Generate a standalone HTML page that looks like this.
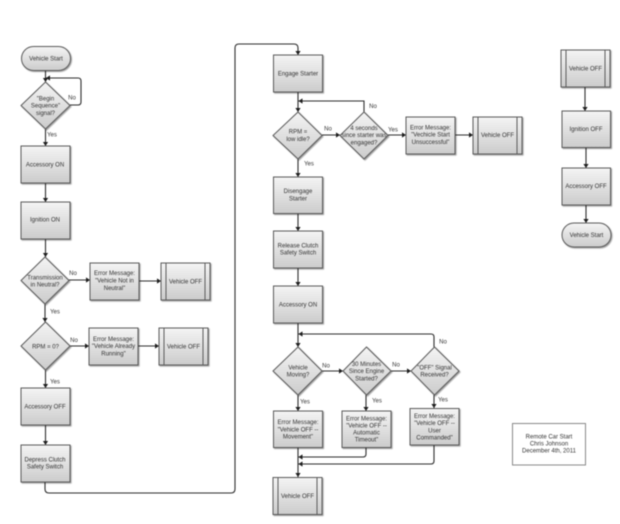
<!DOCTYPE html>
<html><head><meta charset="utf-8"><style>
html,body{margin:0;padding:0;background:#fff;width:620px;height:524px;overflow:hidden}
svg{display:block;filter:blur(.4px)}
.n rect,.n polygon{fill:url(#g);stroke:#5a5a5a;stroke-width:1;filter:url(#s)}
.n line{stroke:#5a5a5a;stroke-width:1}
.c{fill:none;stroke:#2e2e2e;stroke-width:1.1;marker-end:url(#a)}
text{font-family:"Liberation Sans",sans-serif;font-size:6px;fill:#333;text-anchor:middle}
</style></head><body>
<svg width="620" height="524" viewBox="0 0 620 524" xmlns="http://www.w3.org/2000/svg">
<defs>
<linearGradient id="g" x1="0" y1="0" x2="0" y2="1"><stop offset="0" stop-color="#f4f4f4"/><stop offset="1" stop-color="#cccccc"/></linearGradient>
<filter id="s" x="-10%" y="-10%" width="125%" height="125%"><feDropShadow dx="1" dy="1" stdDeviation=".6" flood-color="#000" flood-opacity=".4"/></filter>
<marker id="a" markerUnits="userSpaceOnUse" markerWidth="6" markerHeight="6" refX="4" refY="3" orient="auto"><path d="M0 .4L4 3L0 5.6Z" fill="#1e1e1e"/></marker>
</defs>

<!-- connectors -->
<path class="c" d="M45.5 71V82"/>
<path class="c" d="M70 105H78Q81 105 81 102V81Q81 78 78 78H46"/>
<path class="c" d="M45.5 129V146"/>
<path class="c" d="M45.5 183V202"/>
<path class="c" d="M45.5 239V257"/>
<path class="c" d="M69 280H90"/>
<path class="c" d="M139 281H161"/>
<path class="c" d="M45 304V322"/>
<path class="c" d="M70 346H89"/>
<path class="c" d="M138 346H159"/>
<path class="c" d="M45.5 370V388"/>
<path class="c" d="M45.5 425V445"/>
<path class="c" d="M45 482V489Q45 493 49 493H231Q235 493 235 489V48Q235 44 239 44H294Q298 44 298 48V55"/>
<path class="c" d="M298 92V112"/>
<path class="c" d="M364 112V101H298.5"/>
<path class="c" d="M322 135H340"/>
<path class="c" d="M388 135H406"/>
<path class="c" d="M455 135H473"/>
<path class="c" d="M298 159V177"/>
<path class="c" d="M298 213V231"/>
<path class="c" d="M298 268V286"/>
<path class="c" d="M298 323V347"/>
<path class="c" d="M434 347V337Q434 334 431 334H298.5"/>
<path class="c" d="M322 371H343"/>
<path class="c" d="M391 371H411"/>
<path class="c" d="M298 395V411"/>
<path class="c" d="M366 395V411"/>
<path class="c" d="M434 395V408"/>
<path class="c" d="M298 447V477"/>
<path class="c" d="M366 447V454Q366 457 363 457H298.5"/>
<path class="c" d="M434 445V461Q434 464 431 464H298.5"/>
<path class="c" d="M585 87V111"/>
<path class="c" d="M586 147V168"/>
<path class="c" d="M586 205V223"/>

<!-- left column -->
<g class="n">
<rect x="21.5" y="46.5" width="49" height="24" rx="12"/>
<polygon points="45.5,82 70,105.5 45.5,129 21,105.5"/>
<rect x="21" y="146" width="49" height="37"/>
<rect x="21" y="202" width="49" height="37"/>
<polygon points="45,257 69,280.5 45,304 21,280.5"/>
<rect x="90" y="263" width="49" height="37"/>
<rect x="161" y="263" width="49" height="37"/><line x1="166" y1="263" x2="166" y2="300"/><line x1="205" y1="263" x2="205" y2="300"/>
<polygon points="45.5,322 70,346 45.5,370 21,346"/>
<rect x="89" y="328" width="49" height="37"/>
<rect x="159" y="328" width="49" height="37"/><line x1="164" y1="328" x2="164" y2="365"/><line x1="203" y1="328" x2="203" y2="365"/>
<rect x="21" y="388" width="49" height="37"/>
<rect x="21" y="445" width="49" height="37"/>
</g>

<!-- middle column -->
<g class="n">
<rect x="273.5" y="55" width="49" height="37"/>
<polygon points="298,112 322,135.5 298,159 273,135.5"/>
<polygon points="364,112 388,135.5 364,159 340,135.5"/>
<rect x="406" y="117" width="49" height="37"/>
<rect x="473" y="117" width="49" height="37"/><line x1="478" y1="117" x2="478" y2="154"/><line x1="517" y1="117" x2="517" y2="154"/>
<rect x="273.5" y="177" width="49" height="36.5"/>
<rect x="273.5" y="231" width="49" height="37"/>
<rect x="273.5" y="286" width="49" height="37"/>
<polygon points="298,347 322,371 298,395 273,371"/>
<polygon points="366.5,347 391,371 366.5,395 343,371"/>
<polygon points="434.5,347 459,371 434.5,395 411,371"/>
<rect x="273.5" y="411" width="49" height="36.5"/>
<rect x="342" y="411" width="49" height="36.5"/>
<rect x="410" y="408.5" width="49" height="36.5"/>
<rect x="273" y="477.5" width="49" height="37"/><line x1="278" y1="477.5" x2="278" y2="514.5"/><line x1="317" y1="477.5" x2="317" y2="514.5"/>
</g>

<!-- right column -->
<g class="n">
<rect x="561" y="50" width="49" height="37"/><line x1="566" y1="50" x2="566" y2="87"/><line x1="605" y1="50" x2="605" y2="87"/>
<rect x="562" y="111" width="48.5" height="36.5"/>
<rect x="562" y="168" width="48.5" height="37"/>
<rect x="562" y="223" width="49" height="24" rx="12"/>
</g>
<rect x="512.5" y="423.5" width="73" height="41.5" fill="#fff" stroke="#8a8a8a" stroke-width="1"/>

<!-- node labels -->
<text x="46" y="60.5">Vehicle Start</text>
<text x="45.5" y="100.5">"Begin</text><text x="45.5" y="107.5">Sequence"</text><text x="45.5" y="115">signal?</text>
<text x="45" y="166.5">Accessory ON</text>
<text x="45" y="221.5">Ignition ON</text>
<text x="45" y="279.5">Transmission</text><text x="45" y="286.5">in Neutral?</text>
<text x="114.5" y="275">Error Message:</text><text x="114.5" y="282.5">"Vehicle Not in</text><text x="114.5" y="290">Neutral"</text>
<text x="185.5" y="283.5">Vehicle OFF</text>
<text x="45.5" y="348.5">RPM = 0?</text>
<text x="113.5" y="341">Error Message:</text><text x="113.5" y="348">"Vehicle Already</text><text x="113.5" y="355.5">Running"</text>
<text x="183.5" y="348.5">Vehicle OFF</text>
<text x="45" y="408.5">Accessory OFF</text>
<text x="45" y="461.5">Depress Clutch</text><text x="45" y="468.5">Safety Switch</text>

<text x="298" y="75.5">Engage Starter</text>
<text x="298" y="133.5">RPM =</text><text x="298" y="141">low idle?</text>
<text x="364" y="130">4 seconds</text><text x="364" y="137">since starter was</text><text x="364" y="144.5">engaged?</text>
<text x="430.5" y="129.5">Error Message:</text><text x="430.5" y="136.5">"Vechicle Start</text><text x="430.5" y="144">Unsuccessful"</text>
<text x="497.5" y="137">Vehicle OFF</text>
<text x="298" y="193">Disengage</text><text x="298" y="200.5">Starter</text>
<text x="298" y="247.5">Release Clutch</text><text x="298" y="254.5">Safety Switch</text>
<text x="298" y="306.5">Accessory ON</text>
<text x="298" y="369.5">Vehicle</text><text x="298" y="376.5">Moving?</text>
<text x="366.5" y="366">30 Minutes</text><text x="366.5" y="373">Since Engine</text><text x="366.5" y="380.5">Started?</text>
<text x="434.5" y="369.5">"OFF" Signal</text><text x="434.5" y="376.5">Received?</text>
<text x="298" y="424">Error Message:</text><text x="298" y="431.5">"Vehicle OFF --</text><text x="298" y="438.5">Movement"</text>
<text x="366.5" y="420.5">Error Message:</text><text x="366.5" y="427.5">"Vehicle OFF --</text><text x="366.5" y="434.5">Automatic</text><text x="366.5" y="441.5">Timeout"</text>
<text x="434.5" y="418">Error Message:</text><text x="434.5" y="425">"Vehicle OFF --</text><text x="434.5" y="432.5">User</text><text x="434.5" y="439.5">Commanded"</text>
<text x="297.5" y="498">Vehicle OFF</text>

<text x="585.5" y="70.5">Vehicle OFF</text>
<text x="586" y="131">Ignition OFF</text>
<text x="586" y="188">Accessory OFF</text>
<text x="586.5" y="237">Vehicle Start</text>
<text x="549" y="438.5">Remote Car Start</text><text x="549" y="445.5">Chris Johnson</text><text x="549" y="452.5">December 4th, 2011</text>

<!-- connector labels -->
<text x="72" y="99.5">No</text><text x="52" y="136.5">Yes</text>
<text x="73" y="275">No</text><text x="55" y="313.5">Yes</text>
<text x="74" y="342">No</text><text x="55" y="383.5">Yes</text>
<text x="328" y="130.5">No</text><text x="309" y="165.5">Yes</text>
<text x="373" y="108">No</text><text x="393" y="131.5">Yes</text>
<text x="326" y="367.5">No</text><text x="305" y="403.5">Yes</text>
<text x="396" y="366.5">No</text><text x="377" y="402.5">Yes</text>
<text x="443" y="343.5">No</text><text x="443" y="401.5">Yes</text>
</svg>
</body></html>
